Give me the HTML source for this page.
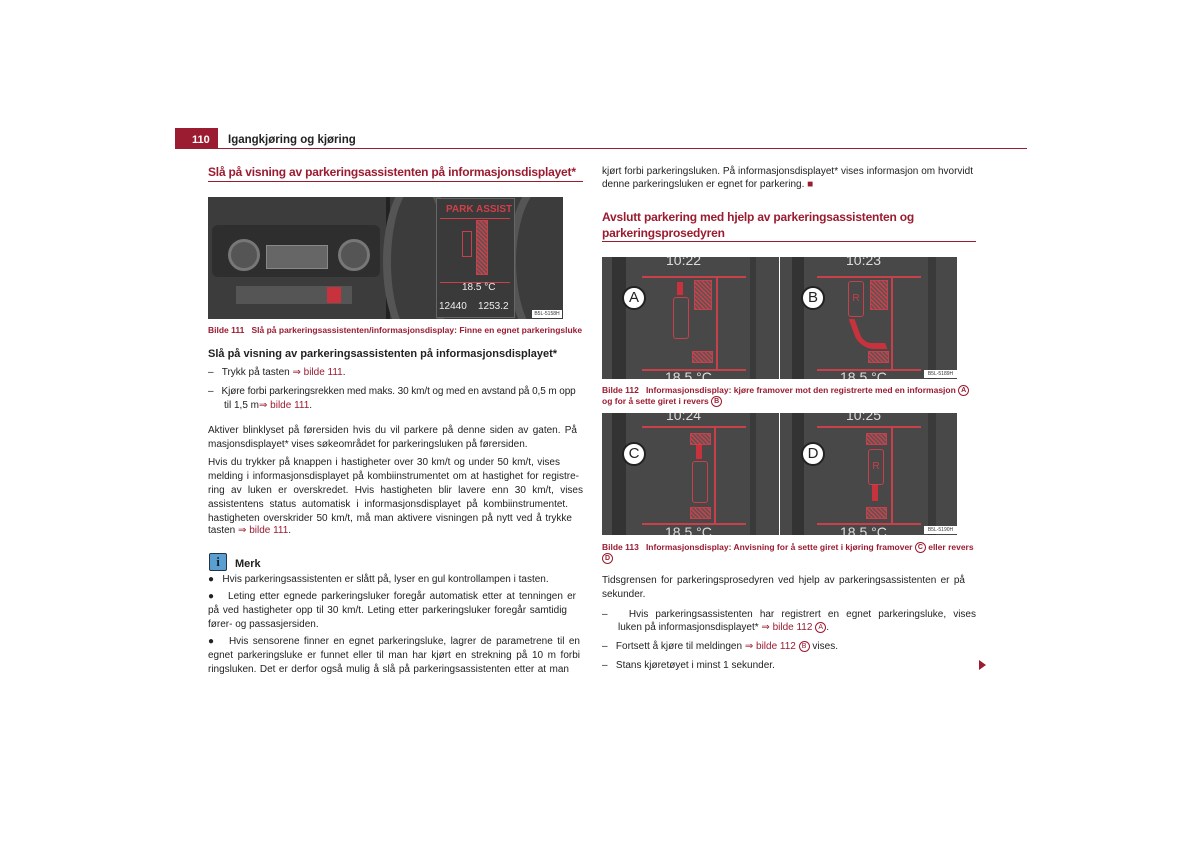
<!DOCTYPE html>
<html><head><meta charset="utf-8"><style>
body{margin:0;width:1200px;height:848px;background:#fff;position:relative;overflow:hidden;font-family:"Liberation Sans Narrow","Liberation Sans",sans-serif;color:#222;font-size:10px}
.l{position:absolute;line-height:14px;white-space:nowrap}
.j{text-align:justify;text-align-last:justify;white-space:normal;height:14px;overflow:hidden}
.r{color:#9b1b30}
.h{font-weight:bold;font-size:12px;letter-spacing:-0.2px;color:#9b1b30}
.cap{font-weight:bold;font-size:8.5px;color:#9b1b30}
.abs{position:absolute}
.c{display:inline-block;width:9px;height:9px;border:1px solid #9b1b30;border-radius:50%;font-size:7px;line-height:9px;text-align:center;color:#9b1b30;vertical-align:middle}
.panel{position:absolute;background:#484848;overflow:hidden}
.circ{position:absolute;width:20px;height:20px;border:2px solid #222;border-radius:50%;background:#fff;font-family:"Liberation Sans",sans-serif;font-size:15px;line-height:20px;text-align:center;color:#222}
.rl{position:absolute;height:2px;background:#c8404a}
.rv{position:absolute;width:2px;background:#c8404a}
.hatch{position:absolute;border:1.5px solid #c8404a;background:repeating-linear-gradient(45deg,#c8404a 0 1.5px,#555 1.5px 3px)}
.dig{position:absolute;color:#ddd;font-family:"Liberation Sans",sans-serif;font-size:14px;line-height:14px}
</style></head><body>

<div class="abs" style="left:175px;top:128px;width:43px;height:21px;background:#9b1b30"></div>
<div class="l" style="left:192px;top:133px;color:#fff;font-weight:bold;font-size:11px">110</div>
<div class="l" style="left:228px;top:133px;font-weight:bold;font-size:11.5px;color:#222">Igangkjøring og kjøring</div>
<div class="abs" style="left:175px;top:148px;width:852px;height:1px;background:#9b1b30"></div>

<div class="l h" style="left:208px;top:165px">Slå på visning av parkeringsassistenten på informasjonsdisplayet*</div>
<div class="abs" style="left:208px;top:181px;width:375px;height:1px;background:#9b1b30"></div>

<div class="abs" style="left:208px;top:197px;width:355px;height:122px;background:#3c3c3c;overflow:hidden">
  <div class="abs" style="left:4px;top:28px;width:168px;height:52px;background:#2e2e2e;border-radius:6px"></div>
  <div class="abs" style="left:20px;top:42px;width:26px;height:26px;border-radius:50%;background:#555;border:3px solid #777"></div>
  <div class="abs" style="left:130px;top:42px;width:26px;height:26px;border-radius:50%;background:#555;border:3px solid #777"></div>
  <div class="abs" style="left:58px;top:48px;width:60px;height:22px;background:#666;border:1px solid #888"></div>
  <div class="abs" style="left:28px;top:89px;width:116px;height:18px;background:#555"></div>
  <div class="abs" style="left:119px;top:90px;width:14px;height:16px;background:#c8323c"></div>
  <div class="abs" style="left:178px;top:0;width:4px;height:122px;background:#222"></div>
  <div class="abs" style="left:175px;top:-20px;width:70px;height:170px;border-radius:50%;border:8px solid #555;box-sizing:border-box"></div>
  <div class="abs" style="left:300px;top:-20px;width:80px;height:170px;border-radius:50%;border:8px solid #555;box-sizing:border-box"></div>
  <div class="abs" style="left:228px;top:1px;width:77px;height:118px;background:#3a3a3a;border:1px solid #666"></div>
  <div class="l" style="left:238px;top:6px;color:#d0404a;font-weight:bold;font-size:10px">PARK ASSIST</div>
  <div class="rl" style="left:232px;top:21px;width:70px;height:1px"></div>
  <div class="hatch" style="left:268px;top:23px;width:10px;height:53px"></div>
  <div class="abs" style="left:254px;top:34px;width:8px;height:24px;border:1px solid #c8404a"></div>
  <div class="rl" style="left:232px;top:85px;width:70px;height:1px"></div>
  <div class="l" style="left:254px;top:84px;color:#eee;font-size:10px;font-family:'Liberation Sans'">18.5 °C</div>
  <div class="l" style="left:231px;top:103px;color:#eee;font-size:10px;font-family:'Liberation Sans'">12440</div>
  <div class="l" style="left:270px;top:103px;color:#eee;font-size:10px;font-family:'Liberation Sans'">1253.2</div>
  <div class="abs" style="left:324px;top:113px;width:30px;height:8px;background:#fff;font-size:5px;line-height:8px;color:#333;text-align:center">B5L-5158H</div>
</div>
<div class="l cap" style="left:208px;top:323px">Bilde 111&nbsp;&nbsp; Slå på parkeringsassistenten/informasjonsdisplay: Finne en egnet parkeringsluke</div>

<div class="l" style="left:208px;top:347px;font-weight:bold;font-size:11px;color:#222">Slå på visning av parkeringsassistenten på informasjonsdisplayet*</div>
<div class="l" style="left:208px;top:366px">–&nbsp;&nbsp; Trykk på tasten <span class="r">⇒ bilde 111</span>.</div>
<div class="l" style="left:208px;top:385px;letter-spacing:-0.1px">–&nbsp;&nbsp; Kjøre forbi parkeringsrekken med maks. 30 km/t og med en avstand på 0,5 m opp</div>
<div class="l" style="left:224px;top:399px">til 1,5 m<span class="r">⇒ bilde 111</span>.</div>

<div class="l j" style="left:208px;top:424px;width:369px">Aktiver blinklyset på førersiden hvis du vil parkere på denne siden av gaten. På infor-</div>
<div class="l" style="left:208px;top:438px">masjonsdisplayet* vises søkeområdet for parkeringsluken på førersiden.</div>
<div class="l j" style="left:208px;top:456px;width:352px">Hvis du trykker på knappen i hastigheter over 30 km/t og under 50 km/t, vises en</div>
<div class="l j" style="left:208px;top:470px;width:371px">melding i informasjonsdisplayet på kombiinstrumentet om at hastighet for registre-</div>
<div class="l j" style="left:208px;top:484px;width:375px">ring av luken er overskredet. Hvis hastigheten blir lavere enn 30 km/t, vises parkerings-</div>
<div class="l j" style="left:208px;top:498px;width:360px">assistentens status automatisk i informasjonsdisplayet på kombiinstrumentet. Hvis</div>
<div class="l j" style="left:208px;top:512px;width:364px">hastigheten overskrider 50 km/t, må man aktivere visningen på nytt ved å trykke på</div>
<div class="l" style="left:208px;top:524px">tasten <span class="r">⇒ bilde 111</span>.</div>

<div class="abs" style="left:209px;top:553px;width:16px;height:16px;background:#5a9fcf;border:1px solid #234;border-radius:2px;color:#123;font-weight:bold;font-size:13px;line-height:16px;text-align:center;font-family:'Liberation Serif'">i</div>
<div class="l" style="left:235px;top:557px;font-weight:bold;font-size:11px">Merk</div>
<div class="l" style="left:208px;top:573px">●&nbsp;&nbsp; Hvis parkeringsassistenten er slått på, lyser en gul kontrollampen i tasten.</div>
<div class="l j" style="left:208px;top:590px;width:368px">●&nbsp;&nbsp; Leting etter egnede parkeringsluker foregår automatisk etter at tenningen er slått</div>
<div class="l j" style="left:208px;top:604px;width:359px">på ved hastigheter opp til 30 km/t. Leting etter parkeringsluker foregår samtidig på</div>
<div class="l" style="left:208px;top:618px">fører- og passasjersiden.</div>
<div class="l j" style="left:208px;top:635px;width:372px">●&nbsp;&nbsp; Hvis sensorene finner en egnet parkeringsluke, lagrer de parametrene til en annen</div>
<div class="l j" style="left:208px;top:649px;width:372px">egnet parkeringsluke er funnet eller til man har kjørt en strekning på 10 m forbi parke-</div>
<div class="l j" style="left:208px;top:663px;width:361px">ringsluken. Det er derfor også mulig å slå på parkeringsassistenten etter at man har</div>

<div class="l j" style="left:602px;top:165px;width:371px">kjørt forbi parkeringsluken. På informasjonsdisplayet* vises informasjon om hvorvidt</div>
<div class="l" style="left:602px;top:178px">denne parkeringsluken er egnet for parkering. <span class="r">■</span></div>
<div class="l h" style="left:602px;top:210px">Avslutt parkering med hjelp av parkeringsassistenten og</div>
<div class="l h" style="left:602px;top:226px">parkeringsprosedyren</div>
<div class="abs" style="left:602px;top:241px;width:374px;height:1px;background:#9b1b30"></div>

<div class="abs" style="left:602px;top:257px;width:355px;height:122px;background:#fff">
  <div class="panel" style="left:0;top:0;width:177px;height:122px">
    <div class="abs" style="left:10px;top:0;width:14px;height:122px;background:#333"></div>
    <div class="abs" style="left:148px;top:0;width:6px;height:122px;background:#3a3a3a"></div>
    <div class="dig" style="left:64px;top:-4px">10:22</div>
    <div class="rl" style="left:40px;top:19px;width:104px"></div>
    <div class="rl" style="left:40px;top:112px;width:104px"></div>
    <div class="rv" style="left:114px;top:19px;height:93px"></div>
    <div class="hatch" style="left:92px;top:23px;width:16px;height:28px"></div>
    <div class="hatch" style="left:90px;top:94px;width:19px;height:10px"></div>
    <div class="abs" style="left:71px;top:40px;width:14px;height:40px;border:1.5px solid #c8404a;border-radius:3px"></div>
    <div class="abs" style="left:75px;top:25px;width:6px;height:13px;background:#c8323c"></div>
    <div class="dig" style="left:63px;top:113px">18.5 °C</div>
    <div class="circ" style="left:20px;top:29px">A</div>
  </div>
  <div class="panel" style="left:178px;top:0;width:177px;height:122px">
    <div class="abs" style="left:12px;top:0;width:12px;height:122px;background:#333"></div>
    <div class="abs" style="left:148px;top:0;width:8px;height:122px;background:#3a3a3a"></div>
    <div class="dig" style="left:66px;top:-4px">10:23</div>
    <div class="rl" style="left:37px;top:19px;width:104px"></div>
    <div class="rl" style="left:37px;top:112px;width:104px"></div>
    <div class="rv" style="left:111px;top:19px;height:93px"></div>
    <div class="hatch" style="left:90px;top:23px;width:16px;height:28px"></div>
    <div class="hatch" style="left:88px;top:94px;width:19px;height:10px"></div>
    <div class="abs" style="left:68px;top:24px;width:14px;height:34px;border:1.5px solid #c8404a;border-radius:3px;color:#c8404a;font-size:10px;text-align:center;line-height:34px;font-family:'Liberation Sans'">R</div>
    <div class="abs" style="left:74px;top:62px;width:22px;height:24px;border-left:6px solid #c8323c;border-bottom:6px solid #c8323c;border-radius:0 0 0 14px;transform:skewX(20deg)"></div>
    <div class="dig" style="left:60px;top:113px">18.5 °C</div>
    <div class="circ" style="left:21px;top:29px">B</div>
  </div>
  <div class="abs" style="left:322px;top:113px;width:33px;height:8px;background:#fff;font-size:5px;line-height:8px;color:#333;text-align:center">B5L-5189H</div>
</div>
<div class="l cap" style="left:602px;top:383px">Bilde 112&nbsp;&nbsp; Informasjonsdisplay: kjøre framover mot den registrerte med en informasjon <span class="c">A</span></div>
<div class="l cap" style="left:602px;top:394px">og for å sette giret i revers <span class="c">B</span></div>

<div class="abs" style="left:602px;top:413px;width:355px;height:122px;background:#fff">
  <div class="panel" style="left:0;top:0;width:177px;height:122px">
    <div class="abs" style="left:10px;top:0;width:14px;height:122px;background:#333"></div>
    <div class="abs" style="left:148px;top:0;width:6px;height:122px;background:#3a3a3a"></div>
    <div class="dig" style="left:64px;top:-5px">10:24</div>
    <div class="rl" style="left:40px;top:13px;width:104px"></div>
    <div class="rl" style="left:40px;top:110px;width:104px"></div>
    <div class="rv" style="left:112px;top:13px;height:97px"></div>
    <div class="hatch" style="left:88px;top:20px;width:19px;height:10px"></div>
    <div class="hatch" style="left:88px;top:94px;width:19px;height:10px"></div>
    <div class="abs" style="left:90px;top:48px;width:14px;height:40px;border:1.5px solid #c8404a;border-radius:3px"></div>
    <div class="abs" style="left:94px;top:32px;width:6px;height:14px;background:#c8323c"></div>
    <div class="dig" style="left:63px;top:112px">18.5 °C</div>
    <div class="circ" style="left:20px;top:29px">C</div>
  </div>
  <div class="panel" style="left:178px;top:0;width:177px;height:122px">
    <div class="abs" style="left:12px;top:0;width:12px;height:122px;background:#333"></div>
    <div class="abs" style="left:148px;top:0;width:8px;height:122px;background:#3a3a3a"></div>
    <div class="dig" style="left:66px;top:-5px">10:25</div>
    <div class="rl" style="left:37px;top:13px;width:104px"></div>
    <div class="rl" style="left:37px;top:110px;width:104px"></div>
    <div class="rv" style="left:111px;top:13px;height:97px"></div>
    <div class="hatch" style="left:86px;top:20px;width:19px;height:10px"></div>
    <div class="hatch" style="left:86px;top:94px;width:19px;height:10px"></div>
    <div class="abs" style="left:88px;top:36px;width:14px;height:34px;border:1.5px solid #c8404a;border-radius:3px;color:#c8404a;font-size:10px;text-align:center;line-height:34px;font-family:'Liberation Sans'">R</div>
    <div class="abs" style="left:92px;top:72px;width:6px;height:16px;background:#c8323c"></div>
    <div class="dig" style="left:60px;top:112px">18.5 °C</div>
    <div class="circ" style="left:21px;top:29px">D</div>
  </div>
  <div class="abs" style="left:322px;top:113px;width:33px;height:8px;background:#fff;font-size:5px;line-height:8px;color:#333;text-align:center">B5L-5190H</div>
</div>
<div class="l cap" style="left:602px;top:540px">Bilde 113&nbsp;&nbsp; Informasjonsdisplay: Anvisning for å sette giret i kjøring framover <span class="c">C</span> eller revers</div>
<div class="l cap" style="left:602px;top:551px"><span class="c">D</span></div>

<div class="l j" style="left:602px;top:574px;width:363px">Tidsgrensen for parkeringsprosedyren ved hjelp av parkeringsassistenten er på 180</div>
<div class="l" style="left:602px;top:588px">sekunder.</div>
<div class="l j" style="left:602px;top:608px;width:374px">–&nbsp;&nbsp; Hvis parkeringsassistenten har registrert en egnet parkeringsluke, vises parkerings-</div>
<div class="l" style="left:618px;top:621px">luken på informasjonsdisplayet* <span class="r">⇒ bilde 112</span> <span class="c">A</span>.</div>
<div class="l" style="left:602px;top:640px">–&nbsp;&nbsp; Fortsett å kjøre til meldingen <span class="r">⇒ bilde 112</span> <span class="c">B</span> vises.</div>
<div class="l" style="left:602px;top:659px">–&nbsp;&nbsp; Stans kjøretøyet i minst 1 sekunder.</div>
<div class="abs" style="left:979px;top:660px;width:0;height:0;border-left:7px solid #9b1b30;border-top:5px solid transparent;border-bottom:5px solid transparent"></div>
</body></html>
